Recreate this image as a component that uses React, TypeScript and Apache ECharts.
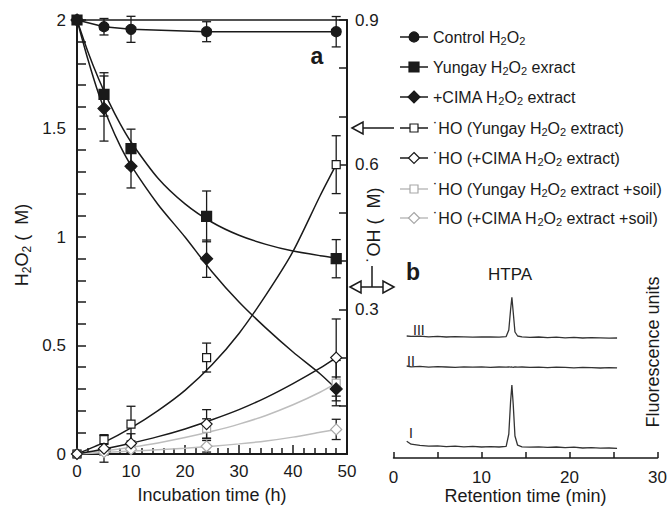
import React, { useEffect, useRef } from 'react';
import * as echarts from 'echarts';

const FONT = '"Liberation Sans", Arial, Helvetica, sans-serif';
const INK = '#1a1a1a';
const GREY = '#bdbdbd';
const GREY_MK = '#a8a8a8';

// ---- Panel a: measured points (incubation time, h)
const sampleTimes = [0, 5, 10, 24, 48];
const controlH2O2 = [2, 1.969, 1.957, 1.946, 1.946];
const controlErr = [0, 0.038, 0.06, 0.046, 0.07];
const yungayH2O2 = [2, 1.657, 1.407, 1.095, 0.9];
const yungayErr = [0, 0.1, 0.09, 0.117, 0.088];
const cimaH2O2 = [2, 1.592, 1.326, 0.9, 0.3];
const cimaErr = [0, 0.15, 0.1, 0.086, 0.055];
const hoYungay = [0, 0.03, 0.062, 0.2, 0.6];
const hoYungayErr = [0, 0.01, 0.037, 0.03, 0.06];
const hoCima = [0, 0.011, 0.022, 0.062, 0.2];
const hoCimaErr = [0, 0.028, 0.02, 0.03, 0.08];
const hoYungaySoil = [0, 0.006, 0.017, 0.053, 0.147];
const hoYungaySoilErr = [0, 0.008, 0.01, 0.02, 0.047];
const hoCimaSoil = [0, 0.004, 0.01, 0.016, 0.051];
const hoCimaSoilErr = [0, 0.006, 0.008, 0.012, 0.021];

// ---- Panel a: fitted curves
const fitTimesH2O2 = [0, 2, 4, 6, 8, 10, 15, 20, 25, 30, 35, 40, 45, 48];
const yungayFit = [2, 1.855, 1.729, 1.618, 1.521, 1.438, 1.271, 1.153, 1.068, 1.008, 0.966, 0.935, 0.914, 0.904];
const cimaFit = [2, 1.82, 1.66, 1.53, 1.42, 1.33, 1.15, 1.0, 0.84, 0.7, 0.58, 0.47, 0.37, 0.3];
const fitTimesHO = [0, 5, 10, 15, 20, 25, 30, 35, 40, 45, 48];
const hoYungayFit = [0, 0.024, 0.054, 0.09, 0.132, 0.185, 0.25, 0.33, 0.42, 0.535, 0.6];
const hoCimaFit = [0, 0.0105, 0.0225, 0.036, 0.052, 0.071, 0.092, 0.117, 0.146, 0.178, 0.2];
const hoYungaySoilFit = [0, 0.0064, 0.014, 0.023, 0.034, 0.047, 0.062, 0.08, 0.102, 0.128, 0.147];
const hoCimaSoilFit = [0, 0.003, 0.006, 0.009, 0.012, 0.016, 0.021, 0.027, 0.035, 0.045, 0.051];

// ---- Panel b: chromatograms (retention time, min; offset fluorescence units)
const bTimes = [1.5, 2, 3, 4, 5, 6, 7, 8, 9, 10, 11, 12, 12.8, 13.1, 13.3, 13.45, 13.6, 13.8, 14.1, 14.6, 15.5, 16.5, 17.5, 18.5, 19.5, 20.5, 21.5, 22.5, 23.5, 24.5, 25.4];
const traceI = [8.4, 6.9, 6.3, 5.9, 6.1, 5.7, 5.9, 5.6, 5.8, 5.5, 5.7, 5.5, 5.8, 12, 28, 36.5, 27, 11, 6.4, 5.6, 5.4, 5.6, 5.3, 5.5, 5.2, 5.4, 5.0, 5.2, 4.9, 5.0, 4.8];
const traceII = [46.0, 45.6, 45.8, 45.4, 45.7, 45.5, 45.3, 45.6, 45.4, 45.6, 45.3, 45.5, 45.4, 45.6, 45.4, 45.5, 45.3, 45.6, 45.4, 45.5, 45.3, 45.4, 45.2, 45.4, 45.3, 45.1, 45.3, 45.2, 45.0, 45.2, 45.1];
const traceIII = [61.0, 60.8, 60.9, 60.6, 60.8, 60.5, 60.7, 60.6, 60.4, 60.6, 60.5, 60.4, 60.7, 64, 74, 80.4, 73, 63, 61.0, 60.6, 60.3, 60.5, 60.2, 60.4, 60.1, 60.3, 60.0, 60.2, 60.1, 59.9, 60.0];

const pairs = (xs: number[], ys: number[]) => xs.map((x, i) => [x, ys[i]]);

const errorBars = (vals: number[], errs: number[], yAxisIndex: number) => ({
  type: 'custom',
  xAxisIndex: 0,
  yAxisIndex,
  z: 2,
  silent: true,
  encode: { x: 0, y: [1, 2] },
  data: sampleTimes
    .map((t, i) => [t, vals[i] - errs[i], vals[i] + errs[i]])
    .filter((_, i) => errs[i] > 0),
  renderItem: (_params: any, api: any) => {
    const x = api.value(0);
    const lo = api.coord([x, api.value(1)]);
    const hi = api.coord([x, api.value(2)]);
    const w = 4.5;
    const style = { stroke: INK, lineWidth: 1.3 };
    return {
      type: 'group',
      children: [
        { type: 'line', shape: { x1: lo[0], y1: lo[1], x2: hi[0], y2: hi[1] }, style },
        { type: 'line', shape: { x1: lo[0] - w, y1: lo[1], x2: lo[0] + w, y2: lo[1] }, style },
        { type: 'line', shape: { x1: hi[0] - w, y1: hi[1], x2: hi[0] + w, y2: hi[1] }, style },
      ],
    };
  },
});

const fitLine = (xs: number[], ys: number[], yAxisIndex: number, color: string, width = 1.5) => ({
  type: 'line',
  xAxisIndex: 0,
  yAxisIndex,
  data: pairs(xs, ys),
  smooth: 0.25,
  symbol: 'none',
  z: 3,
  silent: true,
  lineStyle: { color, width },
});

const markers = (vals: number[], yAxisIndex: number, symbol: string, size: number, fill: string, stroke: string) => ({
  type: 'scatter',
  xAxisIndex: 0,
  yAxisIndex,
  data: pairs(sampleTimes, vals),
  symbol,
  symbolSize: size,
  z: 4,
  silent: true,
  itemStyle: { color: fill, borderColor: stroke, borderWidth: 1.2, opacity: 1 },
});

const trace = (vals: number[]) => ({
  type: 'line',
  xAxisIndex: 1,
  yAxisIndex: 2,
  data: pairs(bTimes, vals),
  symbol: 'none',
  silent: true,
  lineStyle: { color: '#333', width: 1.3 },
});

const richBase = (size: number) => ({
  a: { fontSize: size, fontFamily: FONT, color: INK },
  s: { fontSize: Math.round(size * 0.68), fontFamily: FONT, color: INK, padding: [Math.round(size * 0.5), 0, 0, 0] },
});

const legendRows = [
  { y: 37, text: '{a|Control H}{s|2}{a|O}{s|2}', sym: 'circle', fill: INK, stroke: INK, line: INK },
  { y: 67, text: '{a|Yungay H}{s|2}{a|O}{s|2}{a| exract}', sym: 'rect', fill: INK, stroke: INK, line: INK },
  { y: 97, text: '{a|+CIMA H}{s|2}{a|O}{s|2}{a| extract}', sym: 'diamond', fill: INK, stroke: INK, line: INK },
  { y: 128, text: '{a|˙HO (Yungay H}{s|2}{a|O}{s|2}{a| extract)}', sym: 'rect', fill: '#fff', stroke: INK, line: INK },
  { y: 158, text: '{a|˙HO (+CIMA H}{s|2}{a|O}{s|2}{a| extract)}', sym: 'diamond', fill: '#fff', stroke: INK, line: INK },
  { y: 189, text: '{a|˙HO (Yungay H}{s|2}{a|O}{s|2}{a| extract +soil)}', sym: 'rect', fill: '#fff', stroke: GREY_MK, line: GREY },
  { y: 218, text: '{a|˙HO (+CIMA H}{s|2}{a|O}{s|2}{a| extract +soil)}', sym: 'diamond', fill: '#fff', stroke: GREY_MK, line: GREY },
];

const legendSymbol = (r: any) => {
  const cx = 414;
  const cy = r.y;
  const style = { fill: r.fill, stroke: r.stroke, lineWidth: 1.2 };
  const open = r.fill === '#fff';
  if (r.sym === 'circle') return { type: 'circle', shape: { cx, cy, r: 5 }, style };
  if (r.sym === 'rect') {
    const h = open ? 4 : 5;
    return { type: 'rect', shape: { x: cx - h, y: cy - h, width: 2 * h, height: 2 * h }, style };
  }
  const d = open ? 5.5 : 6;
  return { type: 'polygon', shape: { points: [[cx, cy - d], [cx + d, cy], [cx, cy + d], [cx - d, cy]] }, style };
};

export default function App() {
  const ref = useRef<HTMLDivElement>(null);

  useEffect(() => {
    if (!ref.current) return;
    const chart = echarts.init(ref.current, undefined, { renderer: 'svg' });

    const legendGraphics: any[] = [];
    legendRows.forEach((r) => {
      legendGraphics.push({ type: 'line', shape: { x1: 400, y1: r.y, x2: 428, y2: r.y }, style: { stroke: r.line, lineWidth: 1.5 } });
      legendGraphics.push(legendSymbol(r));
      legendGraphics.push({
        type: 'text',
        x: 433,
        y: r.y,
        style: { text: r.text, rich: richBase(16), fontSize: 16, fontFamily: FONT, fill: INK, align: 'left', verticalAlign: 'middle' },
      });
    });

    const arrowStyle = { stroke: INK, lineWidth: 1.5, fill: '#fff' };

    const option: any = {
      animation: false,
      backgroundColor: '#fff',
      textStyle: { fontFamily: FONT, color: INK },
      grid: [
        { left: 77, top: 20, width: 270, height: 438, show: true, borderColor: INK, borderWidth: 1.5, backgroundColor: 'transparent' },
        { left: 393.5, top: 258, width: 266.5, height: 200 },
      ],
      xAxis: [
        {
          type: 'value', gridIndex: 0, min: 0, max: 50, interval: 10,
          name: 'Incubation time (h)', nameLocation: 'middle', nameGap: 32,
          nameTextStyle: { fontSize: 18, fontFamily: FONT, color: INK },
          axisLine: { show: true, onZero: false, lineStyle: { color: INK, width: 2 } },
          axisTick: { show: true, inside: true, length: 9, lineStyle: { color: INK, width: 1.5 } },
          minorTick: { show: true, splitNumber: 5, length: 6, lineStyle: { color: INK, width: 1.5 } },
          axisLabel: { fontSize: 17, color: INK, margin: 9, fontFamily: FONT },
          splitLine: { show: false },
        },
        {
          type: 'value', gridIndex: 1, min: 0, max: 30, interval: 5,
          name: 'Retention time (min)', nameLocation: 'middle', nameGap: 28,
          nameTextStyle: { fontSize: 18, fontFamily: FONT, color: INK },
          axisLine: { show: true, onZero: false, lineStyle: { color: INK, width: 1.5 } },
          axisTick: { show: true, inside: true, length: 6, lineStyle: { color: INK, width: 1.5 } },
          axisLabel: { fontSize: 17, color: INK, margin: 11, fontFamily: FONT, formatter: (v: number) => (v % 10 === 0 ? String(v) : '') },
          splitLine: { show: false },
        },
      ],
      yAxis: [
        {
          type: 'value', gridIndex: 0, min: 0, max: 2, interval: 0.5, position: 'left',
          axisLine: { show: true, lineStyle: { color: INK, width: 2 } },
          axisTick: { show: true, inside: true, length: 9, lineStyle: { color: INK, width: 1.5 } },
          minorTick: { show: true, splitNumber: 5, length: 9, lineStyle: { color: INK, width: 1.5 } },
          axisLabel: { fontSize: 17, color: INK, margin: 11, fontFamily: FONT },
          splitLine: { show: false },
        },
        {
          type: 'value', gridIndex: 0, min: 0, max: 0.9, interval: 0.3, position: 'right',
          axisLine: { show: true, lineStyle: { color: INK, width: 2 } },
          axisTick: { show: true, inside: true, length: 8, lineStyle: { color: INK, width: 1.5 } },
          minorTick: { show: true, splitNumber: 3, length: 8, lineStyle: { color: INK, width: 1.5 } },
          axisLabel: { fontSize: 17, color: INK, margin: 8, fontFamily: FONT, formatter: (v: number) => (v === 0 ? '' : v.toFixed(1)) },
          splitLine: { show: false },
        },
        {
          type: 'value', gridIndex: 1, min: 0, max: 100, show: false,
          splitLine: { show: false },
        },
      ],
      series: [
        errorBars(controlH2O2, controlErr, 0),
        errorBars(yungayH2O2, yungayErr, 0),
        errorBars(cimaH2O2, cimaErr, 0),
        errorBars(hoYungay, hoYungayErr, 1),
        errorBars(hoCima, hoCimaErr, 1),
        errorBars(hoYungaySoil, hoYungaySoilErr, 1),
        errorBars(hoCimaSoil, hoCimaSoilErr, 1),
        fitLine(fitTimesHO, hoYungaySoilFit, 1, GREY),
        fitLine(fitTimesHO, hoCimaSoilFit, 1, GREY),
        fitLine(fitTimesHO, hoYungayFit, 1, INK),
        fitLine(fitTimesHO, hoCimaFit, 1, INK),
        fitLine(fitTimesH2O2, yungayFit, 0, INK),
        fitLine(fitTimesH2O2, cimaFit, 0, INK),
        {
          type: 'line', xAxisIndex: 0, yAxisIndex: 0, data: pairs(sampleTimes, controlH2O2),
          symbol: 'none', z: 3, silent: true, lineStyle: { color: INK, width: 1.5 },
        },
        markers(hoYungaySoil, 1, 'rect', 8, '#fff', GREY_MK),
        markers(hoCimaSoil, 1, 'diamond', 11, '#fff', GREY_MK),
        markers(hoYungay, 1, 'rect', 8, '#fff', INK),
        markers(hoCima, 1, 'diamond', 11, '#fff', INK),
        markers(controlH2O2, 0, 'circle', 10, INK, INK),
        markers(yungayH2O2, 0, 'rect', 10, INK, INK),
        markers(cimaH2O2, 0, 'diamond', 12, INK, INK),
        trace(traceI),
        trace(traceII),
        trace(traceIII),
      ],
      graphic: [
        ...legendGraphics,
        // panel labels
        { type: 'text', x: 317, y: 56, style: { text: 'a', fontSize: 23, fontWeight: 'bold', fontFamily: FONT, fill: INK, align: 'center', verticalAlign: 'middle' } },
        { type: 'text', x: 413, y: 272, style: { text: 'b', fontSize: 23, fontWeight: 'bold', fontFamily: FONT, fill: INK, align: 'center', verticalAlign: 'middle' } },
        { type: 'text', x: 510, y: 274, style: { text: 'HTPA', fontSize: 17, fontFamily: FONT, fill: INK, align: 'center', verticalAlign: 'middle' } },
        { type: 'text', x: 413, y: 330, style: { text: 'III', fontSize: 14, fontFamily: FONT, fill: INK, align: 'left', verticalAlign: 'middle' } },
        { type: 'text', x: 407, y: 361, style: { text: 'II', fontSize: 14, fontFamily: FONT, fill: INK, align: 'left', verticalAlign: 'middle' } },
        { type: 'text', x: 409, y: 433, style: { text: 'I', fontSize: 14, fontFamily: FONT, fill: INK, align: 'left', verticalAlign: 'middle' } },
        // axis titles
        {
          type: 'text', x: 22, y: 245, rotation: Math.PI / 2,
          style: { text: '{a|H}{s|2}{a|O}{s|2}{a| (  M)}', rich: richBase(18), fontSize: 18, fontFamily: FONT, fill: INK, align: 'center', verticalAlign: 'middle' },
        },
        {
          type: 'text', x: 374, y: 225, rotation: Math.PI / 2,
          style: { text: '˙OH (  M)', fontSize: 18, fontFamily: FONT, fill: INK, align: 'center', verticalAlign: 'middle' },
        },
        {
          type: 'text', x: 653, y: 352, rotation: Math.PI / 2,
          style: { text: 'Fluorescence units', fontSize: 18, fontFamily: FONT, fill: INK, align: 'center', verticalAlign: 'middle' },
        },
        // arrow pointing to the right axis
        { type: 'line', shape: { x1: 362, y1: 128, x2: 394, y2: 128 }, style: { stroke: INK, lineWidth: 1.5 } },
        { type: 'polygon', shape: { points: [[352, 128], [363, 122], [363, 134]] }, style: arrowStyle },
        // double arrow
        { type: 'line', shape: { x1: 361, y1: 287, x2: 383, y2: 287 }, style: { stroke: INK, lineWidth: 1.5 } },
        { type: 'line', shape: { x1: 372, y1: 266, x2: 372, y2: 287 }, style: { stroke: INK, lineWidth: 1.5 } },
        { type: 'polygon', shape: { points: [[350, 287], [361, 281], [361, 293]] }, style: arrowStyle },
        { type: 'polygon', shape: { points: [[394, 287], [383, 281], [383, 293]] }, style: arrowStyle },
      ],
    };

    chart.setOption(option);
    return () => chart.dispose();
  }, []);

  return <div ref={ref} style={{ position: 'fixed', left: 0, top: 0, width: 670, height: 509 }} />;
}
